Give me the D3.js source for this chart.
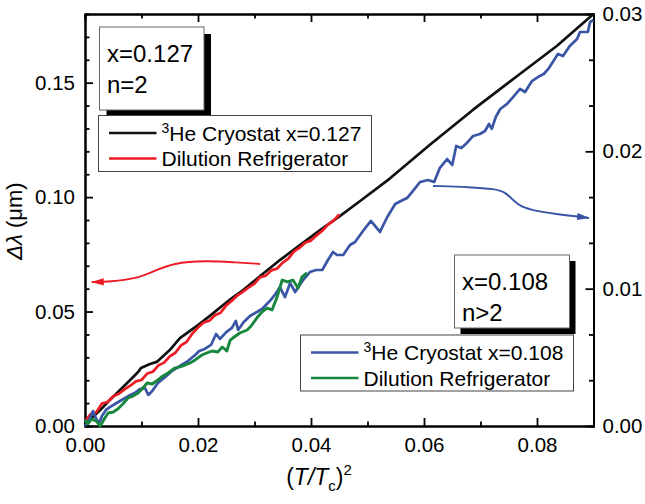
<!DOCTYPE html>
<meta charset="utf-8">
<style>
body { margin: 0; background: #fff; }
svg { font-family: "Liberation Sans", Arial, Helvetica, sans-serif; }
</style>
<svg width="645" height="504"></svg>
<script src="https://cdn.jsdelivr.net/npm/d3@7/dist/d3.min.js"></script>
<script>

// x = 0.127, 3He cryostat (left axis, um)
var he3X127 = [0, 0.0012, 0.0027, 0.0044, 0.0062, 0.0080, 0.0094, 0.0099, 0.0115, 0.0127, 0.0150, 0.0168, 0.0200, 0.0221,
               0.0260, 0.0280, 0.0310, 0.0345, 0.0381, 0.0416, 0.0451, 0.0487, 0.0540, 0.0611, 0.0687, 0.0765, 0.0835, 0.0900];
var he3Y127 = [0, 0.0035, 0.0070, 0.0114, 0.0157, 0.0201, 0.0236, 0.0253, 0.0271, 0.0280, 0.0332, 0.0384, 0.0441, 0.0481,
               0.0559, 0.0594, 0.0655, 0.0725, 0.0791, 0.0856, 0.0917, 0.0983, 0.1082, 0.1230, 0.1382, 0.1529, 0.1660, 0.1800];

// x = 0.127, dilution refrigerator (left axis)
var dilX127 = [0, 0.001, 0.002, 0.003, 0.004, 0.005, 0.006, 0.007, 0.008, 0.009, 0.010, 0.011, 0.012, 0.013, 0.014, 0.015,
               0.016, 0.017, 0.018, 0.019, 0.020, 0.021, 0.022, 0.023, 0.024, 0.025, 0.026, 0.027, 0.028, 0.029, 0.030,
               0.031, 0.032, 0.033, 0.034, 0.035, 0.036, 0.037, 0.038, 0.039, 0.040, 0.041, 0.042, 0.043, 0.044, 0.045];
var dilY127 = [0.0020, 0.0052, 0.0060, 0.0098, 0.0105, 0.0130, 0.0141, 0.0160, 0.0176, 0.0195, 0.0201, 0.0229, 0.0237, 0.0265,
               0.0277, 0.0304, 0.0320, 0.0352, 0.0368, 0.0404, 0.0430, 0.0452, 0.0460, 0.0484, 0.0495, 0.0527, 0.0547, 0.0571,
               0.0587, 0.0606, 0.0622, 0.0650, 0.0657, 0.0680, 0.0688, 0.0714, 0.0731, 0.0763, 0.0779, 0.0802, 0.0810, 0.0833,
               0.0853, 0.0880, 0.0897, 0.0924];

// x = 0.108, 3He cryostat (right axis)
var he3X108 = [0, 0.0004, 0.0009, 0.0014, 0.0020, 0.0025, 0.0030, 0.0037, 0.0044, 0.0053,
               0.0062, 0.0071, 0.0080, 0.0088, 0.0097, 0.0106, 0.0112, 0.0119, 0.0129, 0.0142,
               0.0154, 0.0168, 0.0182, 0.0195, 0.0202, 0.0212, 0.0223, 0.0232, 0.0239, 0.0250,
               0.0260, 0.0267, 0.0271, 0.0281, 0.0292, 0.0304, 0.0315, 0.0327, 0.0336, 0.0345,
               0.0354, 0.0363, 0.0372, 0.0386, 0.0398, 0.0409, 0.0420, 0.0430, 0.0439, 0.0446,
               0.0457, 0.0469, 0.0478, 0.0492, 0.0506, 0.0522, 0.0535, 0.0549, 0.0559, 0.0570,
               0.0582, 0.0593, 0.0607, 0.0618, 0.0628, 0.0641, 0.0650, 0.0657, 0.0666, 0.0676,
               0.0687, 0.0699, 0.0708, 0.0715, 0.0720, 0.0727, 0.0735, 0.0747, 0.0758, 0.0770,
               0.0779, 0.0791, 0.0805, 0.0812, 0.0820, 0.0828, 0.0837, 0.0846, 0.0858, 0.0871,
               0.0876, 0.0890, 0.0894, 0.0900];
var he3Y108 = [0, 0.00022, 0.00058, 0.00109, 0.00051, 0.00022, 0.00073, 0.00117, 0.00138, 0.00160,
               0.00182, 0.00204, 0.00226, 0.00240, 0.00269, 0.00277, 0.00226, 0.00255, 0.00313, 0.00357,
               0.00400, 0.00437, 0.00473, 0.00517, 0.00546, 0.00561, 0.00590, 0.00670, 0.00634, 0.00684,
               0.00714, 0.00765, 0.00699, 0.00757, 0.00801, 0.00830, 0.00859, 0.00910, 0.00954, 0.01012,
               0.00939, 0.01041, 0.00976, 0.01063, 0.01121, 0.01136, 0.01136, 0.01209, 0.01267, 0.01245,
               0.01245, 0.01318, 0.01340, 0.01420, 0.01493, 0.01413, 0.01522, 0.01617, 0.01638, 0.01660,
               0.01719, 0.01777, 0.01791, 0.01777, 0.01879, 0.01944, 0.01901, 0.02039, 0.02024, 0.02061,
               0.02112, 0.02126, 0.02148, 0.02199, 0.02163, 0.02250, 0.02308, 0.02345, 0.02396, 0.02454,
               0.02432, 0.02512, 0.02549, 0.02563, 0.02600, 0.02651, 0.02709, 0.02694, 0.02767, 0.02818,
               0.02869, 0.02869, 0.02942, 0.02956];

// x = 0.108, dilution refrigerator (right axis)
var dilX108 = [0, 0.0005, 0.0012, 0.0020, 0.0027, 0.0034, 0.0041, 0.0050, 0.0058, 0.0067,
               0.0076, 0.0085, 0.0094, 0.0101, 0.0110, 0.0119, 0.0129, 0.0138, 0.0147, 0.0159,
               0.0168, 0.0177, 0.0186, 0.0195, 0.0207, 0.0216, 0.0225, 0.0235, 0.0243, 0.0251,
               0.0257, 0.0264, 0.0274, 0.0287, 0.0294, 0.0304, 0.0313, 0.0322, 0.0331, 0.0340,
               0.0349, 0.0358, 0.0368, 0.0377, 0.0384, 0.0393];
var dilY108 = [0.00044, 0.00015, 0.00051, 0.00036, 0, 0.00051, 0.00095, 0.00102, 0.00124, 0.00160,
               0.00204, 0.00218, 0.00240, 0.00269, 0.00313, 0.00306, 0.00335, 0.00364, 0.00386, 0.00422,
               0.00430, 0.00444, 0.00459, 0.00481, 0.00517, 0.00532, 0.00546, 0.00539, 0.00575, 0.00546,
               0.00626, 0.00648, 0.00677, 0.00699, 0.00728, 0.00786, 0.00830, 0.00859, 0.00845, 0.00939,
               0.01063, 0.01049, 0.01063, 0.01005, 0.01085, 0.01114];

// annotation arrows, in data units
var redArrowX = [0.0310, 0.0260, 0.0216, 0.0156, 0.0120, 0.0092, 0.0044, 0.0012];
var redArrowY = [0.0708, 0.0716, 0.0722, 0.0713, 0.0674, 0.0645, 0.0630, 0.0629];
var blueArrowX = [0.0616, 0.0681, 0.0726, 0.0743, 0.0756, 0.0767, 0.0788, 0.0832, 0.0892];
var blueArrowY = [0.01748, 0.01740, 0.01726, 0.01704, 0.01653, 0.01609, 0.01573, 0.01544, 0.01515];

var xTicks = [0, 0.02, 0.04, 0.06, 0.08];
var xMinor = [0.01, 0.03, 0.05, 0.07];
var yLeftTicks = [0, 0.05, 0.10, 0.15];
var yLeftMinor = [0.01, 0.02, 0.03, 0.04, 0.06, 0.07, 0.08, 0.09, 0.11, 0.12, 0.13, 0.14, 0.16, 0.17];
var yRightTicks = [0, 0.01, 0.02, 0.03];
var yRightMinor = [0.01 / 3, 0.02 / 3, 0.04 / 3, 0.05 / 3, 0.07 / 3, 0.08 / 3];

var colors = { black: "#111", red: "#ec1c24", blue: "#3a55a5", green: "#17873d" };

var svg = d3.select("svg");
var L = 85, R = 593.5, T = 14, B = 426;

var x = d3.scaleLinear().domain([0, 0.09]).range([L, R]);
var yL = d3.scaleLinear().domain([0, 0.18]).range([B, T]);
var yR = d3.scaleLinear().domain([0, 0.03]).range([B, T]);
var fmt = d3.format(".2f");

function styleAxis(g) {
  g.select(".domain").attr("stroke", "#000").attr("stroke-width", 2);
  g.selectAll(".tick line").attr("stroke", "#000").attr("stroke-width", 1.8);
  g.selectAll("text").attr("font-size", 20.5).attr("fill", "#000").attr("font-family", null);
}

// minor ticks first
svg.append("g").attr("transform", "translate(0," + B + ")")
  .call(d3.axisBottom(x).tickValues(xMinor).tickSize(-4.5).tickFormat("")).call(styleAxis);
svg.append("g").attr("transform", "translate(0," + T + ")")
  .call(d3.axisTop(x).tickValues(xMinor).tickSize(-4.5).tickFormat("")).call(styleAxis);
svg.append("g").attr("transform", "translate(" + L + ",0)")
  .call(d3.axisLeft(yL).tickValues(yLeftMinor).tickSize(-4.5).tickFormat("")).call(styleAxis);
svg.append("g").attr("transform", "translate(" + R + ",0)")
  .call(d3.axisRight(yR).tickValues(yRightMinor).tickSize(-4.5).tickFormat("")).call(styleAxis);

// major ticks + labels
svg.append("g").attr("transform", "translate(0," + B + ")")
  .call(d3.axisBottom(x).tickValues(xTicks).tickSize(-8).tickSizeOuter(0).tickPadding(11).tickFormat(fmt)).call(styleAxis);
svg.append("g").attr("transform", "translate(0," + T + ")")
  .call(d3.axisTop(x).tickValues(xTicks).tickSize(-8).tickSizeOuter(0).tickFormat("")).call(styleAxis);
svg.append("g").attr("transform", "translate(" + L + ",0)")
  .call(d3.axisLeft(yL).tickValues(yLeftTicks).tickSize(-8).tickSizeOuter(0).tickPadding(10).tickFormat(fmt)).call(styleAxis);
svg.append("g").attr("transform", "translate(" + R + ",0)")
  .call(d3.axisRight(yR).tickValues(yRightTicks).tickSize(-8).tickSizeOuter(0).tickPadding(9).tickFormat(fmt)).call(styleAxis);

// axis titles
var xt = svg.append("text").attr("x", 319).attr("y", 485).attr("text-anchor", "middle")
  .attr("font-size", 23).attr("fill", "#000");
xt.append("tspan").text("(");
xt.append("tspan").attr("font-style", "italic").text("T/T");
xt.append("tspan").attr("font-size", 15).attr("dy", 6).text("c");
xt.append("tspan").attr("dy", -6).text(")");
xt.append("tspan").attr("font-size", 15).attr("dy", -10).text("2");

var yt = svg.append("text").attr("transform", "translate(22,221) rotate(-90)")
  .attr("text-anchor", "middle").attr("font-size", 22).attr("fill", "#000");
yt.append("tspan").attr("font-style", "italic").text("\u0394\u03bb");
yt.append("tspan").text(" (\u03bcm)");

// data lines
function drawSeries(xs, ys, yScale, color, width) {
  var line = d3.line().x(function(d) { return x(d[0]); }).y(function(d) { return yScale(d[1]); });
  svg.append("path").datum(d3.zip(xs, ys))
    .attr("d", line).attr("fill", "none").attr("stroke", color)
    .attr("stroke-width", width).attr("stroke-linejoin", "round");
}
drawSeries(he3X127, he3Y127, yL, colors.black, 2.7);
drawSeries(dilX127, dilY127, yL, colors.red, 2.7);
drawSeries(he3X108, he3Y108, yR, colors.blue, 2.7);
drawSeries(dilX108, dilY108, yR, colors.green, 2.9);

// arrows
var defs = svg.append("defs");
[["red", colors.red], ["blue", colors.blue]].forEach(function(c) {
  defs.append("marker").attr("id", "head-" + c[0])
    .attr("markerUnits", "userSpaceOnUse").attr("viewBox", "0 -4 13 8")
    .attr("refX", 12).attr("refY", 0).attr("markerWidth", 13).attr("markerHeight", 8)
    .attr("orient", "auto")
    .append("path").attr("d", "M0,-3.6L13,0L0,3.6Z").attr("fill", c[1]);
});
function drawArrow(xs, ys, yScale, color, name) {
  var line = d3.line().curve(d3.curveBasis)
    .x(function(d) { return x(d[0]); }).y(function(d) { return yScale(d[1]); });
  svg.append("path").datum(d3.zip(xs, ys)).attr("d", line)
    .attr("fill", "none").attr("stroke", color).attr("stroke-width", 1.9)
    .attr("marker-end", "url(#head-" + name + ")");
}
drawArrow(redArrowX, redArrowY, yL, colors.red, "red");
drawArrow(blueArrowX, blueArrowY, yR, colors.blue, "blue");

// shadowed info boxes
function infoBox(bx, by, bw, bh, off, lines) {
  svg.append("rect").attr("x", bx + off).attr("y", by + off).attr("width", bw).attr("height", bh).attr("fill", "#000");
  svg.append("rect").attr("x", bx).attr("y", by).attr("width", bw).attr("height", bh)
    .attr("fill", "#fff").attr("stroke", "#666").attr("stroke-width", 1);
  lines.forEach(function(t, i) {
    svg.append("text").attr("x", bx + 7.5).attr("y", by + 35 + i * 31)
      .attr("font-size", 24).attr("fill", "#000").text(t);
  });
}
infoBox(99.5, 27, 104.5, 83, 7, ["x=0.127", "n=2"]);
infoBox(454.5, 255, 115, 73, 6, ["x=0.108", "n>2"]);

// legends
function legend(bx, by, entries) {
  svg.append("rect").attr("x", bx).attr("y", by).attr("width", 273).attr("height", 56)
    .attr("fill", "#fff").attr("stroke", "#444").attr("stroke-width", 1);
  entries.forEach(function(e, i) {
    var ly = by + 17.5 + i * 25.5;
    svg.append("line").attr("x1", bx + 10.5).attr("x2", bx + 58).attr("y1", ly).attr("y2", ly)
      .attr("stroke", e.color).attr("stroke-width", 2.6);
    var t = svg.append("text").attr("x", bx + 63).attr("y", ly + 7.5).attr("font-size", 21).attr("fill", "#000");
    if (e.sup) {
      t.append("tspan").attr("font-size", 14).attr("dy", -8).text(e.sup);
      t.append("tspan").attr("dy", 8).text(e.label);
    } else {
      t.text(e.label);
    }
  });
}
legend(98.5, 115.5, [
  { color: colors.black, sup: "3", label: "He Cryostat x=0.127" },
  { color: colors.red, label: "Dilution Refrigerator" }
]);
legend(300.5, 335, [
  { color: colors.blue, sup: "3", label: "He Cryostat x=0.108" },
  { color: colors.green, label: "Dilution Refrigerator" }
]);

</script>
